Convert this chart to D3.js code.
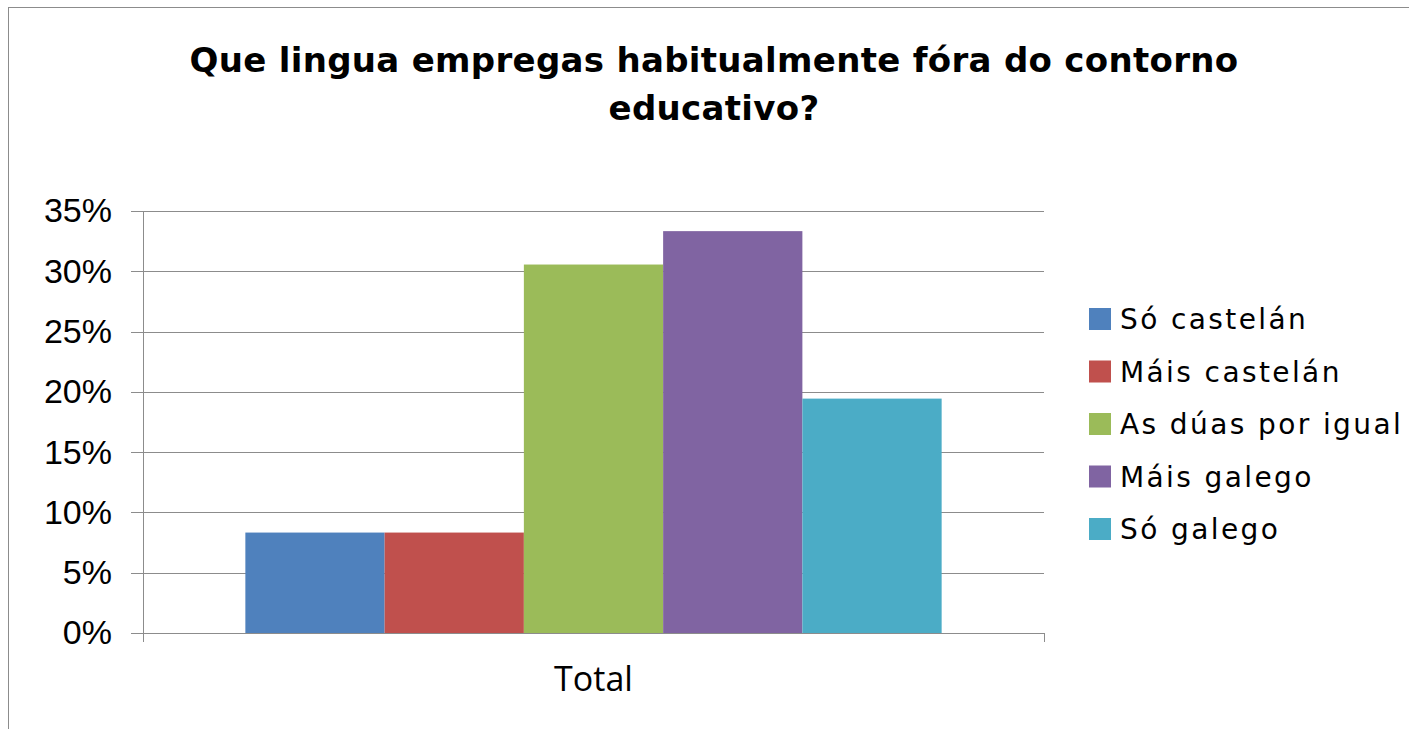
<!DOCTYPE html>
<html>
<head>
<meta charset="utf-8">
<script src="https://cdn.jsdelivr.net/npm/d3@7"></script>
<style>
  body { margin: 0; background: #fff; }
  svg { display: block; }
</style>
</head>
<body>
<div id="chart"></div>
<script>
// data
const categories = ["Total"];
const series = ["Só castelán", "Máis castelán", "As dúas por igual", "Máis galego", "Só galego"];
const values = [0.0833, 0.0833, 0.3056, 0.3333, 0.1944];
const colors = ["#4F81BD", "#C0504D", "#9BBB59", "#8064A2", "#4BACC6"];
const yTicks = [0, 0.05, 0.1, 0.15, 0.2, 0.25, 0.3, 0.35];
const titleLines = ["Que lingua empregas habitualmente fóra do contorno", "educativo?"];

const width = 1409, height = 729;
const plot = { left: 143, right: 1044, top: 211, bottom: 633 };

const svg = d3.select("#chart").append("svg")
  .attr("width", width)
  .attr("height", height);

// outer frame
svg.append("rect")
  .attr("x", 8.5).attr("y", 7.5)
  .attr("width", width + 10).attr("height", height + 10)
  .attr("fill", "#fff")
  .attr("stroke", "#8c8c8c");

// title
svg.append("g").selectAll("text")
  .data(titleLines)
  .enter()
  .append("text")
  .attr("x", 714)
  .attr("y", (d, i) => 72 + i * 48)
  .attr("text-anchor", "middle")
  .attr("font-family", "DejaVu Sans")
  .attr("font-weight", "bold")
  .attr("font-size", 34)
  .attr("letter-spacing", 0.3)
  .attr("fill", "#000")
  .text((d) => d);

// scales
const x0 = d3.scaleBand().domain(categories).range([plot.left, plot.right]);
const x1 = d3.scaleBand()
  .domain(series)
  .range([0, x0.bandwidth()])
  .paddingInner(0)
  .paddingOuter(0.735);
const y = d3.scaleLinear().domain([0, 0.35]).range([plot.bottom, plot.top]);

// grid lines
const grid = svg.append("g")
  .attr("transform", `translate(${plot.right},0)`)
  .call(d3.axisLeft(y).tickValues(yTicks).tickSize(plot.right - 131).tickFormat(""));
grid.select(".domain").remove();
grid.selectAll("line").attr("stroke", "#8c8c8c").attr("shape-rendering", "crispEdges");

// bars
svg.append("g").selectAll("rect")
  .data(series)
  .enter()
  .append("rect")
  .attr("x", (d) => x0("Total") + x1(d))
  .attr("y", (d, i) => y(values[i]))
  .attr("width", x1.bandwidth())
  .attr("height", (d, i) => y(0) - y(values[i]))
  .attr("fill", (d, i) => colors[i]);

// y axis
const yAxis = svg.append("g")
  .attr("transform", `translate(${plot.left},0)`)
  .call(d3.axisLeft(y).tickValues(yTicks).tickSize(0).tickPadding(31).tickFormat(d3.format(".0%")));
yAxis.select(".domain").remove();
yAxis.selectAll("text")
  .attr("font-family", "Liberation Sans")
  .attr("font-size", 34)
  .attr("fill", "#000");

svg.append("line")
  .attr("x1", plot.left + 0.5).attr("x2", plot.left + 0.5)
  .attr("y1", plot.top).attr("y2", plot.bottom + 9)
  .attr("stroke", "#8c8c8c");

// x axis
svg.append("line")
  .attr("x1", plot.left).attr("x2", plot.right)
  .attr("y1", plot.bottom + 0.5).attr("y2", plot.bottom + 0.5)
  .attr("stroke", "#8c8c8c");
svg.append("g").selectAll("line")
  .data(categories)
  .enter()
  .append("line")
  .attr("x1", (d) => x0(d) + x0.bandwidth() + 0.5)
  .attr("x2", (d) => x0(d) + x0.bandwidth() + 0.5)
  .attr("y1", plot.bottom).attr("y2", plot.bottom + 9)
  .attr("stroke", "#8c8c8c");
svg.append("g").selectAll("text")
  .data(categories)
  .enter()
  .append("text")
  .attr("x", (d) => x0(d) + x0.bandwidth() / 2)
  .attr("y", 691)
  .attr("text-anchor", "middle")
  .attr("font-family", "Open Sans")
  .attr("font-size", 34)
  .attr("fill", "#000")
  .text((d) => d);

// legend
const legend = svg.append("g").selectAll("g")
  .data(series)
  .enter()
  .append("g")
  .attr("transform", (d, i) => `translate(1089, ${308 + i * 52.5})`);
legend.append("rect")
  .attr("width", 22).attr("height", 22)
  .attr("fill", (d, i) => colors[i]);
legend.append("text")
  .attr("x", 31)
  .attr("y", 21)
  .attr("font-family", "DejaVu Sans")
  .attr("font-size", 28)
  .attr("letter-spacing", 2.4)
  .attr("fill", "#000")
  .text((d) => d);
</script>
</body>
</html>
